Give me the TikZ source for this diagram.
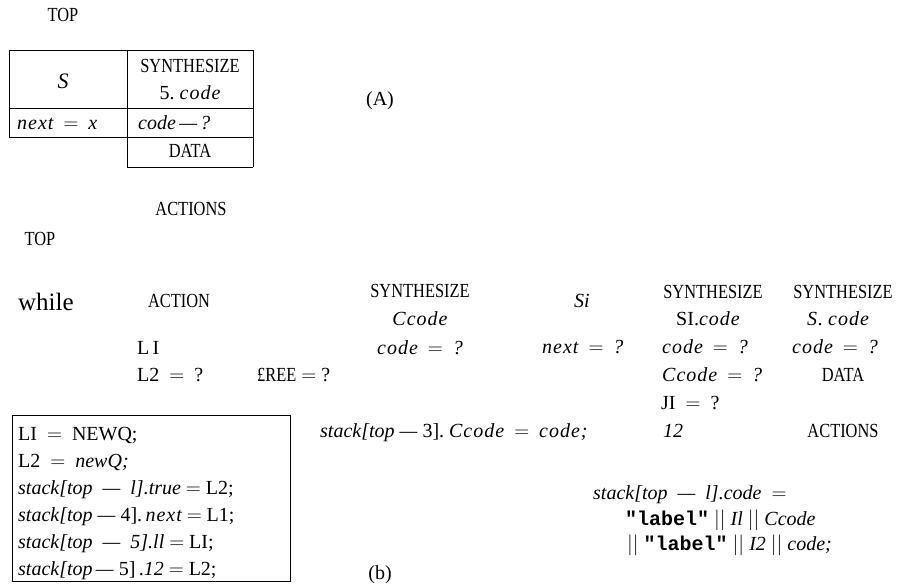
\documentclass[tikz,border=0pt]{standalone}
\usepackage{fontspec}
\setmainfont{Liberation Serif}
\setmonofont{Liberation Mono}
\newfontfamily\capf{Liberation Serif}[FakeStretch=0.82]
\newfontfamily\mif{Liberation Serif Italic}[LetterSpace=5]
\newcommand\mi[1]{{\mif #1}}
\begin{document}
\begin{tikzpicture}[x=1pt,y=-1pt,
  every node/.style={inner sep=0pt, font=\fontsize{20}{24}\selectfont},
  lab/.style={anchor=base},
  labl/.style={anchor=base west},
  capt/.style={anchor=base, font=\fontsize{20}{24}\selectfont\capf},
  rule/.style={line width=0.9pt}]
\useasboundingbox (0,0) rectangle (898,584);

% ---- part (A)
\node[capt] (top1) at (63,21) {TOP};
\draw[rule] (9,50) -- (253,50) (9,50) -- (9,137) (127,50) -- (127,167)
  (253,50) -- (253,167) (9,108) -- (253,108) (9,137) -- (253,137)
  (127,167) -- (253,167);
\node[lab, font=\fontsize{22}{26}\selectfont] (s) at (63,88) {\textit{S}};
\node[capt] (syn1) at (190,72) {SYNTHESIZE};
\node[lab] (scode) at (190,99) {5.\ \mi{code}};
\node[labl] (nextx) at (17,129) {\mi{next}\ \ $=$\ \ \mi{x}};
\node[labl] (codeq) at (138,129) {\textit{code\,—\,?}};
\node[capt] (data1) at (190,157) {DATA};
\node[lab] (A) at (380,105) {(A)};

% ---- part (b)
\node[capt] (act1) at (191,215) {ACTIONS};
\node[capt] (top2) at (40,245) {TOP};
\node[labl, font=\fontsize{25}{30}\selectfont] (while) at (18,310) {$\mathrm{while}$};
\node[capt] (action) at (179,307) {ACTION};
\node[labl] (l1) at (137,354) {L\,I};
\node[labl] (l2) at (137,381) {L2\ \ $=$\ \ ?};
\node[labl] (free) at (257,381) {{\capf £REE} $=$ ?};

\node[capt] (syn2) at (420,297) {SYNTHESIZE};
\node[lab] (ccode2) at (420,325) {\mi{Ccode}};
\node[lab] (code2) at (420,354) {\mi{code}\ \ $=$\ \ \textit{?}};

\node[lab] (si) at (582,307) {\textit{Si}};
\node[labl] (next2) at (542,353) {\mi{next}\ \ $=$\ \ \textit{?}};

\node[capt] (syn3) at (713,298) {SYNTHESIZE};
\node[lab] (si3) at (708,325) {SI.\mi{code}};
\node[labl] (c3a) at (662,353) {\mi{code}\ \ $=$\ \ \textit{?}};
\node[labl] (c3b) at (662,381) {\mi{Ccode}\ \ $=$\ \ \textit{?}};
\node[labl] (j3) at (661,409) {JI\ \ $=$\ \ ?};
\node[labl] (i3) at (663,437) {\textit{12}};

\node[capt] (syn4) at (843,298) {SYNTHESIZE};
\node[lab] (s4) at (838,325) {\mi{S.}\ \mi{code}};
\node[labl] (c4) at (792,353) {\mi{code}\ \ $=$\ \ \textit{?}};
\node[capt] (data4) at (843,381) {DATA};
\node[capt] (act4) at (843,437) {ACTIONS};

\node[labl] (st3) at (320,437) {\textit{stack[top —} 3].\ \mi{Ccode}\ \ $=$\ \ \mi{code;}};

\node[draw, rule, minimum width=278pt, minimum height=166pt] (box) at (151,498) {};
\node[labl] (b1) at (18,440) {LI\ \ $=$\ \ NEWQ;};
\node[labl] (b2) at (18,467) {L2\ \ $=$\ \ \textit{newQ;}};
\node[labl] (b3) at (18,494) {\textit{stack[top\ \ —\ \ l].true} $=$\ L2;};
\node[labl] (b4) at (18,521) {\textit{stack[top —} 4].\,\mi{next} $=$\ L1;};
\node[labl] (b5) at (18,548) {\textit{stack[top\ \ —\ \ 5].ll} $=$ LI;};
\node[labl] (b6) at (18,575) {\textit{stack[top\,—} 5]\,.\textit{12} $=$ L2;};

\node[lab] (bl) at (380,579) {(b)};

\node[labl] (sc1) at (593,499) {\textit{stack[top\ \ —\ \ l].code}\ \ $=$};
\node[labl] (sc2) at (625,525) {{\ttfamily\bfseries "label"} $||$ \textit{Il} $||$ \textit{Ccode}};
\node[labl] (sc3) at (627,550) {$||$ {\ttfamily\bfseries "label"} $||$ \textit{I2} $||$ \textit{code;}};
\end{tikzpicture}
\end{document}
